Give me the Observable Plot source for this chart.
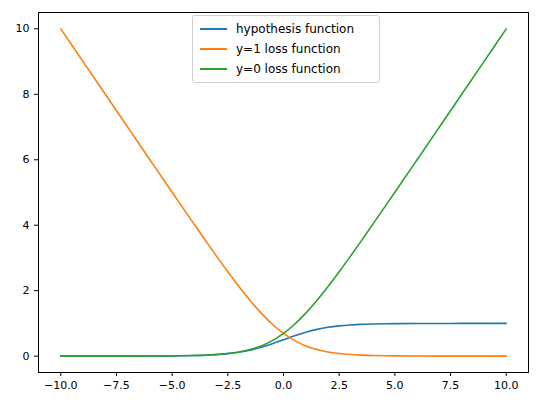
<!DOCTYPE html>
<html><head><meta charset="utf-8">
<script src="https://cdn.jsdelivr.net/npm/d3@7"></script>
<script src="https://cdn.jsdelivr.net/npm/@observablehq/plot@0.6"></script>
<style>body{margin:0;background:#fff;font-family:"DejaVu Sans",sans-serif}#c{position:relative;width:543px;height:413px}
#lg{position:absolute;left:192px;top:15px;width:186px;border:1px solid #d0d0d0;border-radius:3px;background:#fff;font-size:12px;padding:3px 0}
.r{display:flex;align-items:center;height:20px}.r span{display:inline-block;width:27px;height:2px;margin:0 9px 0 7px}</style>
</head><body><div id="c"></div>
<script>
const xs = [-10,-9,-8,-7,-6,-5,-4,-3.5,-3,-2.5,-2,-1.5,-1,-0.5,0,0.5,1,1.5,2,2.5,3,3.5,4,5,6,7,8,9,10];
const hyp = [0.00005,0.00012,0.00034,0.0009,0.0025,0.0067,0.018,0.029,0.047,0.076,0.119,0.182,0.269,0.378,0.5,0.622,0.731,0.818,0.881,0.924,0.953,0.971,0.982,0.993,0.9975,0.999,0.9997,0.9999,1.0];
const loss1 = [10.0,9.0001,8.0003,7.0009,6.0025,5.0067,4.018,3.530,3.049,2.579,2.127,1.701,1.313,0.974,0.693,0.474,0.313,0.201,0.127,0.079,0.049,0.030,0.018,0.0067,0.0025,0.0009,0.0003,0.0001,0.00005];
const loss0 = loss1.slice().reverse();
const names = ["hypothesis function","y=1 loss function","y=0 loss function"];
const colors = ["#1f77b4","#ff7f0e","#2ca02c"];
const series = [hyp, loss1, loss0];
const data = series.flatMap((s,i)=>s.map((v,j)=>({x:xs[j],y:v,k:names[i]})));
const plot = Plot.plot({
  width:543,height:413,marginLeft:38,marginRight:15,marginTop:12,marginBottom:41,
  style:{fontFamily:"DejaVu Sans",fontSize:"11px",color:"#000"},
  x:{domain:[-11,11],ticks:[-10,-7.5,-5,-2.5,0,2.5,5,7.5,10],tickFormat:d=>d.toFixed(1).replace("-","−"),label:null,tickSize:4},
  y:{domain:[-0.5,10.5],ticks:[0,2,4,6,8,10],label:null,tickSize:4,tickFormat:d=>String(d)},
  color:{domain:names,range:colors},
  marks:[
    Plot.frame({stroke:"#000"}),
    Plot.line(data,{x:"x",y:"y",stroke:"k",strokeWidth:1.6,curve:"catmull-rom"})
  ]
});
const c=document.getElementById("c");c.appendChild(plot);
const lg=document.createElement("div");lg.id="lg";
lg.innerHTML=names.map((n,i)=>`<div class="r"><span style="background:${colors[i]}"></span>${n}</div>`).join("");
c.appendChild(lg);
</script></body></html>
